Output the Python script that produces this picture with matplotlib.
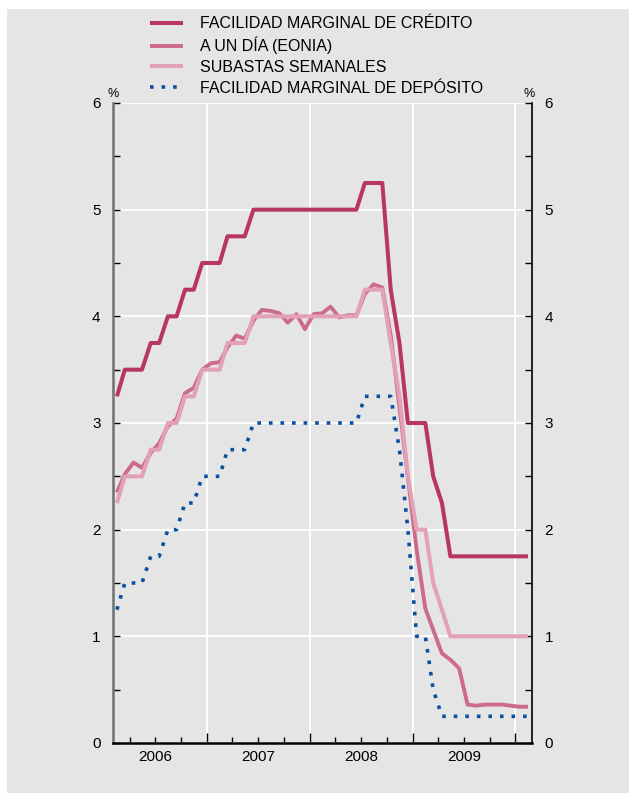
import matplotlib
matplotlib.use("Agg")
import matplotlib.pyplot as plt
import matplotlib.dates as mdates
import numpy as np
import pandas as pd
from matplotlib.patches import Rectangle

plt.rcParams["font.family"] = ["Liberation Sans", "DejaVu Sans"]

# monthly observations, Feb 2006 .. Feb 2010
MONTHS = pd.date_range("2006-02-01", "2010-02-01", freq="MS") + pd.Timedelta(days=14)

credito = [3.25, 3.5, 3.5, 3.5, 3.75, 3.75, 4.0, 4.0, 4.25, 4.25, 4.5,
           4.5, 4.5, 4.75, 4.75, 4.75, 5.0, 5.0, 5.0, 5.0, 5.0, 5.0, 5.0,
           5.0, 5.0, 5.0, 5.0, 5.0, 5.0, 5.25, 5.25, 5.25, 4.25, 3.75, 3.0,
           3.0, 3.0, 2.5, 2.25, 1.75, 1.75, 1.75, 1.75, 1.75, 1.75, 1.75, 1.75,
           1.75, 1.75]
eonia = [2.35, 2.52, 2.63, 2.58, 2.72, 2.81, 2.97, 3.04, 3.28, 3.33, 3.50,
         3.56, 3.57, 3.71, 3.82, 3.79, 3.96, 4.06, 4.05, 4.03, 3.94, 4.02, 3.88,
         4.02, 4.03, 4.09, 3.99, 4.01, 4.01, 4.21, 4.30, 4.27, 3.82, 3.15, 2.49,
         1.81, 1.26, 1.06, 0.84, 0.78, 0.70, 0.36, 0.35, 0.36, 0.36, 0.36, 0.35,
         0.34, 0.34]
subastas = [2.25, 2.5, 2.5, 2.5, 2.75, 2.75, 3.0, 3.0, 3.25, 3.25, 3.5,
            3.5, 3.5, 3.75, 3.75, 3.75, 4.0, 4.0, 4.0, 4.0, 4.0, 4.0, 4.0,
            4.0, 4.0, 4.0, 4.0, 4.0, 4.0, 4.25, 4.25, 4.25, 3.75, 3.25, 2.5,
            2.0, 2.0, 1.5, 1.25, 1.0, 1.0, 1.0, 1.0, 1.0, 1.0, 1.0, 1.0,
            1.0, 1.0]
deposito = [1.25, 1.5, 1.5, 1.5, 1.75, 1.75, 2.0, 2.0, 2.25, 2.25, 2.5,
            2.5, 2.5, 2.75, 2.75, 2.75, 3.0, 3.0, 3.0, 3.0, 3.0, 3.0, 3.0,
            3.0, 3.0, 3.0, 3.0, 3.0, 3.0, 3.25, 3.25, 3.25, 3.25, 2.75, 2.0,
            1.0, 1.0, 0.5, 0.25, 0.25, 0.25, 0.25, 0.25, 0.25, 0.25, 0.25, 0.25,
            0.25, 0.25]

YEARS = [2006, 2007, 2008, 2009]
LABELS = ["FACILIDAD MARGINAL DE CRÉDITO", "A UN DÍA (EONIA)",
          "SUBASTAS SEMANALES", "FACILIDAD MARGINAL DE DEPÓSITO"]

GREY = "#e5e5e5"
C_CRED, C_EON, C_SUB, C_DEP = "#b9375f", "#cd6b8c", "#e2a1b5", "#0b50a0"

fig = plt.figure(figsize=(6.29, 7.97), dpi=100)
fig.patches.append(Rectangle((7 / 629, 4 / 797), 1, 784 / 797, transform=fig.transFigure,
                             facecolor=GREY, edgecolor="none", zorder=-10))
ax = fig.add_axes([113 / 629, 54 / 797, 419 / 629, 640 / 797])
ax.set_facecolor(GREY)

l_dep, = ax.plot(MONTHS, deposito, color=C_DEP, lw=2.6, ls=(0, (1, 2.2)),
                 dash_capstyle="butt", zorder=3)
l_eon, = ax.plot(MONTHS, eonia, color=C_EON, lw=2.8, solid_capstyle="butt", zorder=4)
l_sub, = ax.plot(MONTHS, subastas, color=C_SUB, lw=2.9, solid_capstyle="butt", zorder=5)
l_cre, = ax.plot(MONTHS, credito, color=C_CRED, lw=2.9, solid_capstyle="butt", zorder=6)

ax.set_ylim(0, 6)
ax.set_xlim(pd.Timestamp("2006-02-01"), pd.Timestamp("2010-03-01"))

# grid: white, at integers and year boundaries
year_bounds = [pd.Timestamp(f"{y + 1}-01-01") for y in YEARS]
ax.set_xticks(year_bounds)
ax.set_xticklabels([])
ax.xaxis.set_minor_locator(mdates.MonthLocator(bymonth=[1, 4, 7, 10]))
ax.set_yticks(range(7))
ax.set_yticks(np.arange(0, 6.01, 0.5), minor=True)
ax.grid(True, which="major", color="white", lw=1.3, zorder=1)

ax.tick_params(axis="x", which="major", direction="in", length=7, width=1, color="black")
ax.tick_params(axis="x", which="minor", direction="in", length=4, width=1, color="black")
ax.tick_params(axis="y", which="both", direction="in", left=True, right=True,
               labelleft=True, labelright=True, labelsize=11, pad=9, width=1)
ax.tick_params(axis="y", which="major", length=5)
ax.tick_params(axis="y", which="minor", length=5)

for y in YEARS:
    ax.text(pd.Timestamp(f"{y}-07-02"), -0.065, str(y), ha="center", va="top", fontsize=11)

ax.spines["top"].set_visible(False)
ax.spines["left"].set_color("#707070")
ax.spines["left"].set_linewidth(1.8)
ax.spines["bottom"].set_color("black")
ax.spines["bottom"].set_linewidth(1.8)
ax.spines["right"].set_color("black")
ax.spines["right"].set_linewidth(1.2)

fig.text(113 / 629, 1 - 94 / 797, "%", ha="center", va="center", fontsize=9)
fig.text(529 / 629, 1 - 94 / 797, "%", ha="center", va="center", fontsize=9)

fig.legend([l_cre, l_eon, l_sub, l_dep], LABELS, loc="upper left",
           bbox_to_anchor=(144 / 629, 1 - 10 / 797), frameon=False, fontsize=11.5,
           handlelength=2.05, handletextpad=1.05, labelspacing=0.35, borderaxespad=0)

fig.savefig("out.png", dpi=100, facecolor="white")
